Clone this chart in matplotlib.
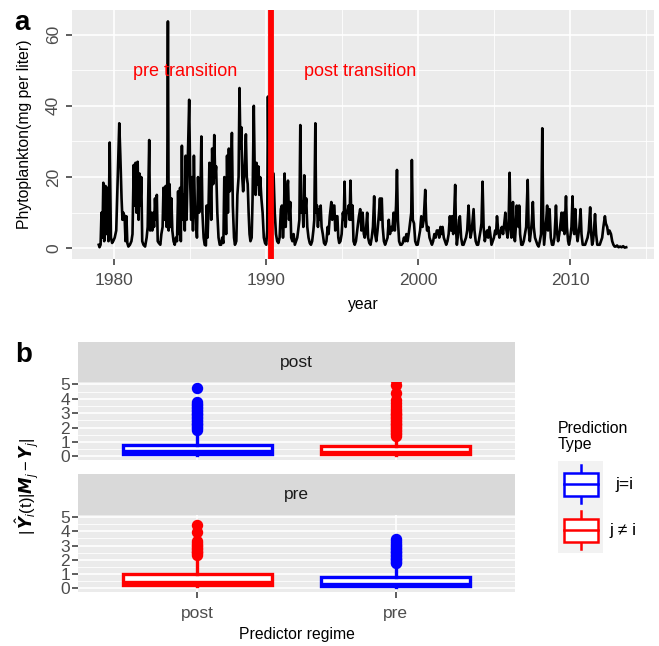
import matplotlib
matplotlib.use('Agg')
import matplotlib.pyplot as plt
from matplotlib.patches import Rectangle
from matplotlib.lines import Line2D
from matplotlib.ticker import MultipleLocator, FixedLocator

plt.rcParams['font.family'] = ['Liberation Sans', 'DejaVu Sans']
plt.rcParams['mathtext.fontset'] = 'custom'
plt.rcParams['mathtext.rm'] = 'Liberation Sans'
plt.rcParams['mathtext.it'] = 'Liberation Sans:italic'
plt.rcParams['mathtext.bf'] = 'Liberation Sans:bold'

# ---------------- data: panel a ----------------
year = [
 1979.00,1979.05,1979.12,1979.18,1979.24,1979.30,1979.36,1979.45,1979.52,1979.58,1979.64,1979.72,1979.80,1979.88,1979.95,
 1980.05,1980.15,1980.25,1980.35,1980.42,1980.50,1980.56,1980.62,1980.70,1980.76,1980.82,1980.88,1980.95,
 1981.05,1981.15,1981.22,1981.30,1981.36,1981.42,1981.48,1981.56,1981.62,1981.68,1981.74,1981.80,1981.86,1981.94,
 1982.05,1982.15,1982.22,1982.32,1982.38,1982.45,1982.52,1982.58,1982.64,1982.70,1982.76,1982.82,1982.88,1982.95,
 1983.05,1983.12,1983.20,1983.26,1983.32,1983.40,1983.46,1983.50,1983.55,1983.60,1983.66,1983.72,1983.78,1983.84,1983.92,
 1984.00,1984.08,1984.15,1984.22,1984.28,1984.35,1984.40,1984.47,1984.53,1984.60,1984.66,1984.72,1984.78,1984.86,1984.95,
 1985.02,1985.08,1985.14,1985.20,1985.26,1985.32,1985.40,1985.46,1985.53,1985.60,1985.68,1985.75,1985.82,1985.90,1985.97,
 1986.05,1986.10,1986.16,1986.22,1986.28,1986.34,1986.40,1986.46,1986.53,1986.60,1986.66,1986.72,1986.80,1986.88,1986.96,
 1987.05,1987.12,1987.20,1987.26,1987.32,1987.38,1987.44,1987.50,1987.56,1987.62,1987.70,1987.76,1987.82,1987.90,1987.96,
 1988.05,1988.12,1988.20,1988.26,1988.32,1988.38,1988.44,1988.50,1988.56,1988.62,1988.68,1988.74,1988.80,1988.86,1988.92,1988.98,
 1989.06,1989.12,1989.20,1989.26,1989.32,1989.38,1989.44,1989.50,1989.56,1989.62,1989.70,1989.78,1989.86,1989.94,
 1990.02,1990.08,1990.13,1990.20,1990.30,1990.40,1990.50,1990.58,1990.66,1990.74,1990.82,1990.90,1990.98,
 1991.05,1991.12,1991.18,1991.23,1991.30,1991.36,1991.45,1991.52,1991.60,1991.66,1991.74,1991.82,1991.90,1991.98,
 1992.06,1992.12,1992.20,1992.26,1992.32,1992.40,1992.46,1992.52,1992.58,1992.65,1992.72,1992.80,1992.88,1992.96,
 1993.04,1993.12,1993.18,1993.25,1993.30,1993.36,1993.42,1993.48,1993.54,1993.60,1993.66,1993.74,1993.82,1993.90,1993.98,
 1994.06,1994.12,1994.20,1994.30,1994.36,1994.44,1994.50,1994.56,1994.62,1994.70,1994.76,1994.82,1994.90,1994.98,
 1995.06,1995.12,1995.17,1995.24,1995.30,1995.36,1995.44,1995.50,1995.56,1995.62,1995.70,1995.76,1995.84,1995.92,
 1996.00,1996.06,1996.12,1996.20,1996.28,1996.36,1996.44,1996.50,1996.58,1996.66,1996.72,1996.80,1996.88,1996.96,
 1997.04,1997.12,1997.18,1997.26,1997.34,1997.42,1997.50,1997.56,1997.62,1997.68,1997.76,1997.84,1997.92,
 1998.00,1998.08,1998.16,1998.24,1998.32,1998.40,1998.48,1998.56,1998.62,1998.68,1998.76,1998.84,1998.92,
 1999.00,1999.08,1999.16,1999.24,1999.32,1999.42,1999.50,1999.56,1999.60,1999.66,1999.74,1999.82,1999.90,1999.98,
 2000.06,2000.14,2000.22,2000.30,2000.38,2000.48,2000.54,2000.60,2000.68,2000.76,2000.84,2000.92,
 2001.00,2001.08,2001.16,2001.24,2001.32,2001.40,2001.48,2001.56,2001.62,2001.70,2001.78,2001.86,2001.94,
 2002.02,2002.10,2002.18,2002.24,2002.32,2002.38,2002.45,2002.50,2002.56,2002.64,2002.70,2002.76,2002.84,2002.92,
 2003.00,2003.08,2003.16,2003.24,2003.33,2003.40,2003.46,2003.54,2003.60,2003.66,2003.72,2003.80,2003.88,2003.96,
 2004.04,2004.12,2004.18,2004.25,2004.32,2004.40,2004.48,2004.55,2004.62,2004.70,2004.76,2004.84,2004.92,
 2005.00,2005.08,2005.14,2005.20,2005.28,2005.36,2005.45,2005.52,2005.60,2005.68,2005.75,2005.82,2005.90,2005.96,
 2006.03,2006.08,2006.15,2006.20,2006.25,2006.32,2006.38,2006.44,2006.50,2006.56,2006.62,2006.66,2006.72,2006.80,2006.88,2006.96,
 2007.04,2007.12,2007.22,2007.28,2007.36,2007.44,2007.50,2007.56,2007.62,2007.70,2007.78,2007.86,2007.94,
 2008.02,2008.10,2008.18,2008.24,2008.30,2008.38,2008.44,2008.50,2008.56,2008.62,2008.66,2008.74,2008.82,2008.90,2008.98,
 2009.04,2009.08,2009.14,2009.22,2009.30,2009.38,2009.45,2009.52,2009.58,2009.64,2009.70,2009.74,2009.80,2009.88,2009.94,
 2010.02,2010.10,2010.17,2010.22,2010.28,2010.35,2010.42,2010.50,2010.56,2010.62,2010.70,2010.76,2010.84,2010.92,
 2011.00,2011.08,2011.16,2011.24,2011.33,2011.40,2011.46,2011.52,2011.58,2011.65,2011.72,2011.80,2011.88,2011.96,
 2012.04,2012.12,2012.20,2012.30,2012.36,2012.45,2012.52,2012.60,2012.70,2012.78,2012.86,2012.94,
 2013.02,2013.10,2013.20,2013.30,2013.40,2013.50,2013.60,2013.70]
phyto = [
 1.0,0.3,1.0,10,3,18.4,2,17.5,4,17,2,29.7,3,1.5,2,
 3,5,20,35.1,26,14,8,10,9,2,9,1.5,0.5,
 1,2,4,23.4,12,24,10,24.3,8,21,12,20,2,1,
 0.5,3,6,30.4,5,10,5,10,6,14,8,15,2,1.5,
 1,4,6,17,8,17.5,6,10,63.7,5,18,6,14,5,2,
 1,3,2,16,4,17,2,28.8,8,15,5,26,8,25,41.7,
 18,8,20,5,26,12,8,3,20,10,12,31.4,10,3,1,
 0.8,12,3,11,24,20,8,28,18,31.8,20,23,10,3,1,
 1,3,1.5,20,14,4,26,10,28,16,20,32.4,12,3,1,
 2,15,20,45,28,34,20,16,20,25,32,20,18,10,4,2,
 3,14,40,22,15,24,18,23,15,20,14,10,3,1.5,
 1,5,42.6,8,2,10,21,10,4,2,1.5,3,11,
 12,3,8,21,6,14,19,8,13,3,2,4,1,2,
 3,5,8,34.6,10,13,6,20.5,10,14,6,3,1.5,1,
 2,5,8,35.1,10,12,6,11,8,12,6,4,1.5,1,2,
 6,4,9,13,8,12,12,5,9,9,3,1.5,2,4,
 10,8,18.7,6,10,10,12,8,19,8,12,2,1,2,
 5,7,9,11,5,10,4,3,5,10,3,1.5,1,3,
 6,14.6,4,2,5,9,14,8,14,6,2,1,2,
 3,8,4,6,5,10,5,12,22,8,2,1,1,
 1.5,3,2,4,2,5,8,10,24.8,8,7,2,1,1,
 3,5,9,6,8,16.4,8,5,6,3,2,1,
 2,4,3,5,5,3,6,4,6,3,2,1,2,
 4,9,5,9,4,9,17.8,6,1,4,8,9,3,1,
 1,2,3,5,12,6,3,5,8,11,5,2,1,1,
 3,5,7,18.7,6,2,4,5,3,6,4,1,2,
 3,5,4,9,5,3,5,6,4,7,10,5,3,6,
 21.2,8,3,6,13,4,2,6,12,8,6,12,4,1,1,2,
 4,6,19.2,6,2,5,8,13,6,3,2,1,0.5,
 2,4,33.7,8,1,5,8,12,5,8,11,3,1,1,3,
 8,12,5,2,4,7,10,5,10,4,10,14.6,6,2,1,
 3,6,14.6,6,4,11,5,2,4,6,11,4,1,1,
 1,2,3,5,11.5,4,1,2,5,9.6,4,1,1,1,
 2,3,6,9,7,6,4,5,4,2,1,0.5,
 0.5,0.8,0.3,0.5,0.3,0.6,0.2,0.3]
transition_year = 1990.3
year_ticks = [1980, 1990, 2000, 2010]
phyto_ticks = [0, 20, 40, 60]

# ---------------- data: panel b ----------------
facets = ['post', 'pre']
regimes = ['post', 'pre']
type_labels = ['j=i', 'j \u2260 i']
type_colors = ['#0000FF', '#FF0000']
# (facet, regime) -> (type index, q1, median, q3, whisker low, whisker high, outliers)
box_stats = {
    ('post', 'post'): (0, 0.2, 0.36, 0.82, 0.12, 1.6,
                       [1.85, 1.95, 2.05, 2.15, 2.25, 2.35, 2.45, 2.55, 2.65, 2.75, 2.85, 2.95,
                        3.05, 3.15, 3.25, 3.35, 3.45, 3.55, 3.65, 3.75, 4.75]),
    ('post', 'pre'): (1, 0.15, 0.32, 0.7, 0.08, 1.3,
                      [1.45, 1.55, 1.65, 1.75, 1.85, 1.95, 2.05, 2.15, 2.25, 2.35, 2.45, 2.55,
                       2.65, 2.75, 2.85, 2.95, 3.05, 3.15, 3.3, 3.5, 3.7, 3.9, 4.4, 4.95, 5.3]),
    ('pre', 'post'): (1, 0.2, 0.42, 0.97, 0.12, 2.1,
                      [2.35, 2.45, 2.55, 2.65, 2.75, 2.85, 2.95, 3.05, 3.15, 3.3, 3.95, 4.45]),
    ('pre', 'pre'): (0, 0.15, 0.32, 0.75, 0.08, 1.6,
                     [1.75, 1.85, 1.95, 2.05, 2.15, 2.25, 2.35, 2.45, 2.55, 2.65, 2.75, 2.85,
                      2.95, 3.05, 3.15, 3.3, 3.45]),
}
b_ticks = [0, 1, 2, 3, 4, 5]

# ---------------- figure ----------------
W, H = 659, 646
fig = plt.figure(figsize=(W / 100, H / 100), dpi=100)

def fax(x0, y0, x1, y1):
    return fig.add_axes([x0 / W, 1 - y1 / H, (x1 - x0) / W, (y1 - y0) / H])

BG = '#EBEBEB'
TICKC = '#333333'
LABC = '#4D4D4D'

# panel a
ax = fax(72, 10, 654, 259)
ax.set_facecolor(BG)
ax.plot(year, phyto, color='black', lw=1.9, zorder=3)
ax.axvline(transition_year, color='#FF0000', lw=4.2, zorder=4)
ax.set_xlim(1977.24, 2015.53)
ax.set_ylim(-3.0, 66.9)
ax.xaxis.set_major_locator(FixedLocator(year_ticks))
ax.yaxis.set_major_locator(FixedLocator(phyto_ticks))
ax.xaxis.set_minor_locator(MultipleLocator(5))
ax.yaxis.set_minor_locator(MultipleLocator(10))
ax.grid(which='major', color='white', lw=1.2, zorder=0)
ax.grid(which='minor', color='white', lw=0.6, zorder=0)
ax.set_axisbelow(True)
for s in ax.spines.values():
    s.set_visible(False)
ax.tick_params(which='major', length=4, width=1.1, color=TICKC, labelcolor=LABC, labelsize=12.5)
ax.tick_params(axis='x', pad=6)
ax.tick_params(axis='y', pad=4, labelrotation=90)
ax.tick_params(which='minor', length=0)
for lab in ax.get_yticklabels():
    lab.set_va('center')
ax.text(1984.7, 49.6, 'pre transition', color='#FF0000', fontsize=13, ha='center', va='center')
ax.text(1996.2, 49.6, 'post transition', color='#FF0000', fontsize=13, ha='center', va='center')
fig.text(363 / W, 1 - 304 / H, 'year', fontsize=11.3, ha='center', va='center')
fig.text(25 / W, 1 - 134.5 / H, 'Phytoplankton(mg per liter)', fontsize=11.3, ha='center', va='center', rotation=90)
fig.text(14 / W, 1 - 30 / H, 'a', fontsize=20, fontweight='bold', ha='left', va='baseline')

# panel b
panel_rows = {'post': (342.3, 382.3, 460.0), 'pre': (474.0, 515.0, 591.7)}
for fi, facet in enumerate(facets):
    s_top, p_top, p_bot = panel_rows[facet]
    st = fax(78.3, s_top, 515, p_top)
    st.set_facecolor('#D9D9D9')
    st.set_xticks([]); st.set_yticks([])
    for s in st.spines.values():
        s.set_visible(False)
    st.text(0.5, 0.5, facet, transform=st.transAxes, ha='center', va='center', fontsize=12.5, color='#1A1A1A')

    bx = fax(78.3, p_top, 515, p_bot)
    bx.set_facecolor(BG)
    for ri, reg in enumerate(regimes):
        ti, q1, med, q3, wlo, whi, fl = box_stats[(facet, reg)]
        c = type_colors[ti]
        st_d = [dict(q1=q1, med=med, q3=q3, whislo=wlo, whishi=whi, fliers=fl)]
        bx.bxp(st_d, positions=[ri + 1], widths=0.75, patch_artist=True, showcaps=False,
               boxprops=dict(facecolor='white', edgecolor=c, lw=2.4),
               medianprops=dict(color=c, lw=2.4),
               whiskerprops=dict(color=c, lw=2.4),
               flierprops=dict(marker='o', markerfacecolor=c, markeredgecolor=c, markersize=7.2),
               manage_ticks=False, zorder=3)
    bx.set_xlim(0.4, 2.6)
    bx.set_ylim(-0.25, 5.15)
    bx.yaxis.set_major_locator(FixedLocator(b_ticks))
    bx.yaxis.set_minor_locator(MultipleLocator(0.5))
    bx.xaxis.set_major_locator(FixedLocator([1, 2]))
    bx.grid(which='major', color='white', lw=1.2, zorder=0)
    bx.grid(which='minor', axis='y', color='white', lw=0.6, zorder=0)
    bx.set_axisbelow(True)
    for s in bx.spines.values():
        s.set_visible(False)
    bx.tick_params(which='major', length=4, width=1.1, color=TICKC, labelcolor=LABC, labelsize=12.5, pad=2)
    bx.tick_params(which='minor', length=0)
    if fi == len(facets) - 1:
        bx.set_xticklabels(regimes)
        bx.tick_params(axis='x', pad=6)
    else:
        bx.tick_params(axis='x', length=0, labelbottom=False)

fig.text(296.7 / W, 1 - 634 / H, 'Predictor regime', fontsize=11.3, ha='center', va='center')
fig.text(28 / W, 1 - 487 / H,
         r'$|\,\hat{\boldsymbol{Y}}_i(\mathrm{t})|\boldsymbol{M}_j - \boldsymbol{Y}_j|$',
         fontsize=12, ha='center', va='center', rotation=90)
fig.text(15 / W, 1 - 362 / H, 'b', fontsize=20, fontweight='bold', ha='left', va='baseline')

# legend
lg = fax(545, 410, 655, 560)
lg.set_xlim(545, 655)
lg.set_ylim(560, 410)
lg.axis('off')
lg.text(558, 421, 'Prediction\nType', fontsize=11.4, ha='left', va='top', linespacing=1.05, color='black')
lg.add_patch(Rectangle((558, 461), 45, 92, facecolor='#F2F2F2', edgecolor='none'))
for k, (lab, c) in enumerate(zip(type_labels, type_colors)):
    cy = 484 + k * 46
    lg.add_line(Line2D([581, 581], [cy - 19, cy + 19], color=c, lw=1.8))
    lg.add_patch(Rectangle((564, cy - 11.5), 34, 23, facecolor='white', edgecolor=c, lw=1.8, zorder=3))
    lg.add_line(Line2D([564, 598], [cy, cy], color=c, lw=1.8, zorder=4))
    lg.text(624 if k == 0 else 623, cy, lab, fontsize=12.5, ha='center', va='center', color='black')

fig.savefig('out.png', dpi=100)
